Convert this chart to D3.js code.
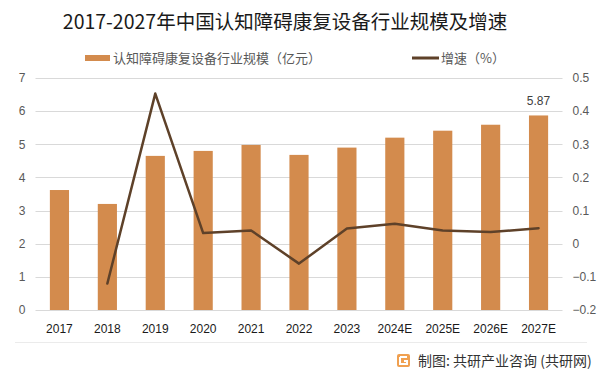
<!DOCTYPE html>
<html>
<head>
<meta charset="utf-8">
<script src="https://cdn.jsdelivr.net/npm/d3@7"></script>
<style>
  body { margin: 0; background: #fff; }
  svg { display: block; font-family: "Microsoft YaHei", "Noto Sans CJK SC", "DejaVu Sans", sans-serif; }
</style>
</head>
<body>
<svg id="chart" width="600" height="372"></svg>
<script>
// data
var years = ["2017", "2018", "2019", "2020", "2021", "2022", "2023", "2024E", "2025E", "2026E", "2027E"];
var scale = [3.62, 3.2, 4.65, 4.8, 4.98, 4.68, 4.9, 5.2, 5.41, 5.59, 5.87];
var growth = [null, -0.12, 0.453, 0.032, 0.04, -0.06, 0.046, 0.06, 0.04, 0.035, 0.047];
var leftTicks = [0, 1, 2, 3, 4, 5, 6, 7];
var rightTicks = [-0.2, -0.1, 0, 0.1, 0.2, 0.3, 0.4, 0.5];

var barColor = "#D38B4D";
var lineColor = "#5E4129";
var textColor = "#595959";

var svg = d3.select("#chart");
var plotLeft = 35.5, plotRight = 562.5, plotTop = 78, plotBottom = 310;

var x = d3.scaleBand().domain(years).range([plotLeft, plotRight]).paddingInner(0.6).paddingOuter(0.3);
var yL = d3.scaleLinear().domain([0, 7]).range([plotBottom, plotTop]);
var yR = d3.scaleLinear().domain([-0.2, 0.5]).range([plotBottom, plotTop]);

// title
svg.append("text")
    .attr("x", 285).attr("y", 29)
    .attr("text-anchor", "middle")
    .style("font-size", "19.5px")
    .style("fill", "#1a1a1a")
    .text("2017-2027年中国认知障碍康复设备行业规模及增速");

// legend
var lg = svg.append("g");
lg.append("rect").attr("x", 85).attr("y", 55).attr("width", 25).attr("height", 6).style("fill", barColor);
lg.append("text").attr("x", 113).attr("y", 63).style("font-size", "13px").style("fill", textColor)
    .text("认知障碍康复设备行业规模（亿元）");
lg.append("line").attr("x1", 412).attr("x2", 439).attr("y1", 58).attr("y2", 58)
    .style("stroke", lineColor).style("stroke-width", 3);
lg.append("text").attr("x", 441).attr("y", 63).style("font-size", "13px").style("fill", textColor)
    .text("增速（%）");

//gridlines
svg.append("g")
    .selectAll("line")
    .data(leftTicks)
    .enter().append("line")
    .attr("x1", plotLeft).attr("x2", plotRight)
    .attr("y1", function(d) { return Math.round(yL(d)) + 0.5; })
    .attr("y2", function(d) { return Math.round(yL(d)) + 0.5; })
    .style("stroke", "#D9D9D9").style("stroke-width", 1);

// left axis
var axL = svg.append("g").attr("transform", "translate(" + (plotLeft - 10) + ",0)")
    .call(d3.axisLeft(yL).tickValues(leftTicks).tickSize(0).tickPadding(0).tickFormat(d3.format("d")));
axL.select(".domain").remove();
axL.selectAll("text").style("font-size", "12px").style("fill", textColor).style("font-family", "Liberation Sans, Arial, sans-serif");

// right axis
var axR = svg.append("g").attr("transform", "translate(" + (plotRight + 10) + ",0)")
    .call(d3.axisRight(yR).tickValues(rightTicks).tickSize(0).tickPadding(0)
        .tickFormat(function(d) { return d3.format("")(Math.round(d * 10) / 10); }));
axR.select(".domain").remove();
axR.selectAll("text").style("font-size", "12px").style("fill", textColor).style("font-family", "Liberation Sans, Arial, sans-serif");

// bars
svg.append("g")
    .selectAll("rect")
    .data(scale)
    .enter().append("rect")
    .attr("x", function(d, i) { return x(years[i]); })
    .attr("width", x.bandwidth())
    .attr("y", function(d) { return yL(d); })
    .attr("height", function(d) { return plotBottom - yL(d); })
    .style("fill", barColor);

// last value label
svg.append("text")
    .attr("x", x(years[10]) + x.bandwidth() / 2)
    .attr("y", yL(scale[10]) - 10)
    .attr("text-anchor", "middle")
    .style("font-size", "12px").style("fill", "#404040")
    .style("font-family", "Liberation Sans, Arial, sans-serif")
    .text(scale[10]);

// x labels
svg.append("g")
    .selectAll("text")
    .data(years)
    .enter().append("text")
    .attr("x", function(d) { return x(d) + x.bandwidth() / 2; })
    .attr("y", 333)
    .attr("text-anchor", "middle")
    .style("font-size", "12px").style("fill", "#1a1a1a")
    .style("font-family", "Liberation Sans, Arial, sans-serif")
    .text(function(d) { return d; });

// growth line
var line = d3.line()
    .defined(function(d) { return d != null; })
    .x(function(d, i) { return x(years[i]) + x.bandwidth() / 2; })
    .y(function(d) { return yR(d); });

svg.append("path")
    .datum(growth)
    .attr("d", line)
    .style("fill", "none")
    .style("stroke", lineColor)
    .style("stroke-width", 2.5)
    .style("stroke-linejoin", "round")
    .style("stroke-linecap", "round");

// footer separator
svg.append("line").attr("x1", 15).attr("x2", 587).attr("y1", 342.5).attr("y2", 342.5)
    .style("stroke", "#EBEBEB").style("stroke-width", 1);

// source logo + text
var logo = svg.append("g").attr("transform", "translate(397,354)");
logo.append("rect").attr("width", 13).attr("height", 13).attr("rx", 2).style("fill", "#F0A050");
logo.append("path").attr("d", "M3,3 H10 M3,3 V10 H10 V7 H7")
    .style("fill", "none").style("stroke", "#fff").style("stroke-width", 2);

svg.append("text")
    .attr("x", 418).attr("y", 366)
    .style("font-size", "14px").style("fill", "#333")
    .text("制图: 共研产业咨询 (共研网)");
</script>
</body>
</html>
